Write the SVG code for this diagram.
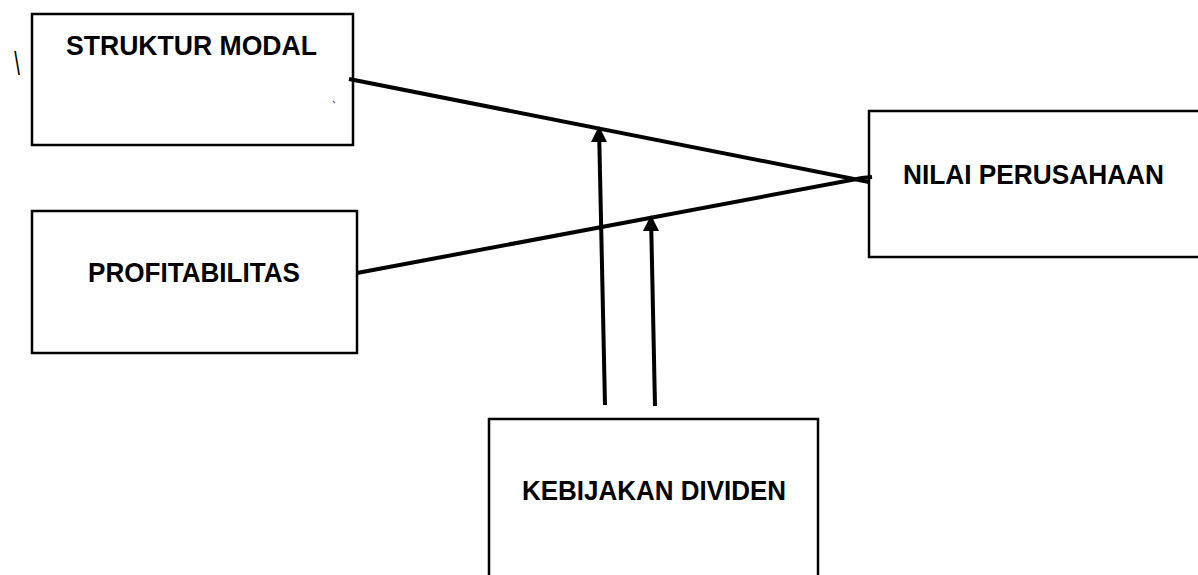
<svg xmlns="http://www.w3.org/2000/svg" width="1198" height="575" viewBox="0 0 1198 575">
<defs>
<style>
.box{fill:#fff;stroke:#000;stroke-width:2.5}
.lbl{font-family:"Liberation Sans",Arial,sans-serif;font-weight:bold;font-size:28px;fill:#000;text-anchor:middle}
.con{stroke:#000;stroke-width:4;fill:none;stroke-linecap:butt}
</style>
</defs>
<rect width="1198" height="575" fill="#fff"/>
<text x="0" y="0" transform="translate(17,75) scale(0.6,1)" font-family="Liberation Sans, Arial, sans-serif" font-size="34" fill="#000" text-anchor="middle">\</text>
<g id="struktur-modal">
<rect class="box" x="32" y="14" width="321" height="131"/>
<text class="lbl" x="191.5" y="55" textLength="251" lengthAdjust="spacingAndGlyphs">STRUKTUR MODAL</text>
<path d="M333,101 L335,103" stroke="#4472c4" stroke-width="1.2"/>
</g>
<g id="profitabilitas">
<rect class="box" x="32" y="211" width="325" height="142"/>
<text class="lbl" x="194" y="282" textLength="212" lengthAdjust="spacingAndGlyphs">PROFITABILITAS</text>
</g>
<g id="nilai-perusahaan">
<rect class="box" x="869" y="111" width="332" height="146"/>
<text class="lbl" x="1033.5" y="184" textLength="261" lengthAdjust="spacingAndGlyphs">NILAI PERUSAHAAN</text>
</g>
<g id="kebijakan-dividen">
<rect class="box" x="489" y="419" width="329" height="170"/>
<text class="lbl" x="654" y="500" textLength="264" lengthAdjust="spacingAndGlyphs">KEBIJAKAN DIVIDEN</text>
</g>
<g id="connectors">
<path class="con" d="M349,79 L869,182"/>
<path class="con" d="M357,273 L862,178 L872,177"/>
<path class="con" d="M605,405 L599.3,141"/>
<path d="M599,126 L607,142 L591,142 z" fill="#000"/>
<path class="con" d="M655,406 L651.3,230"/>
<path d="M651,215 L659,231 L643,231 z" fill="#000"/>
</g>
</svg>
